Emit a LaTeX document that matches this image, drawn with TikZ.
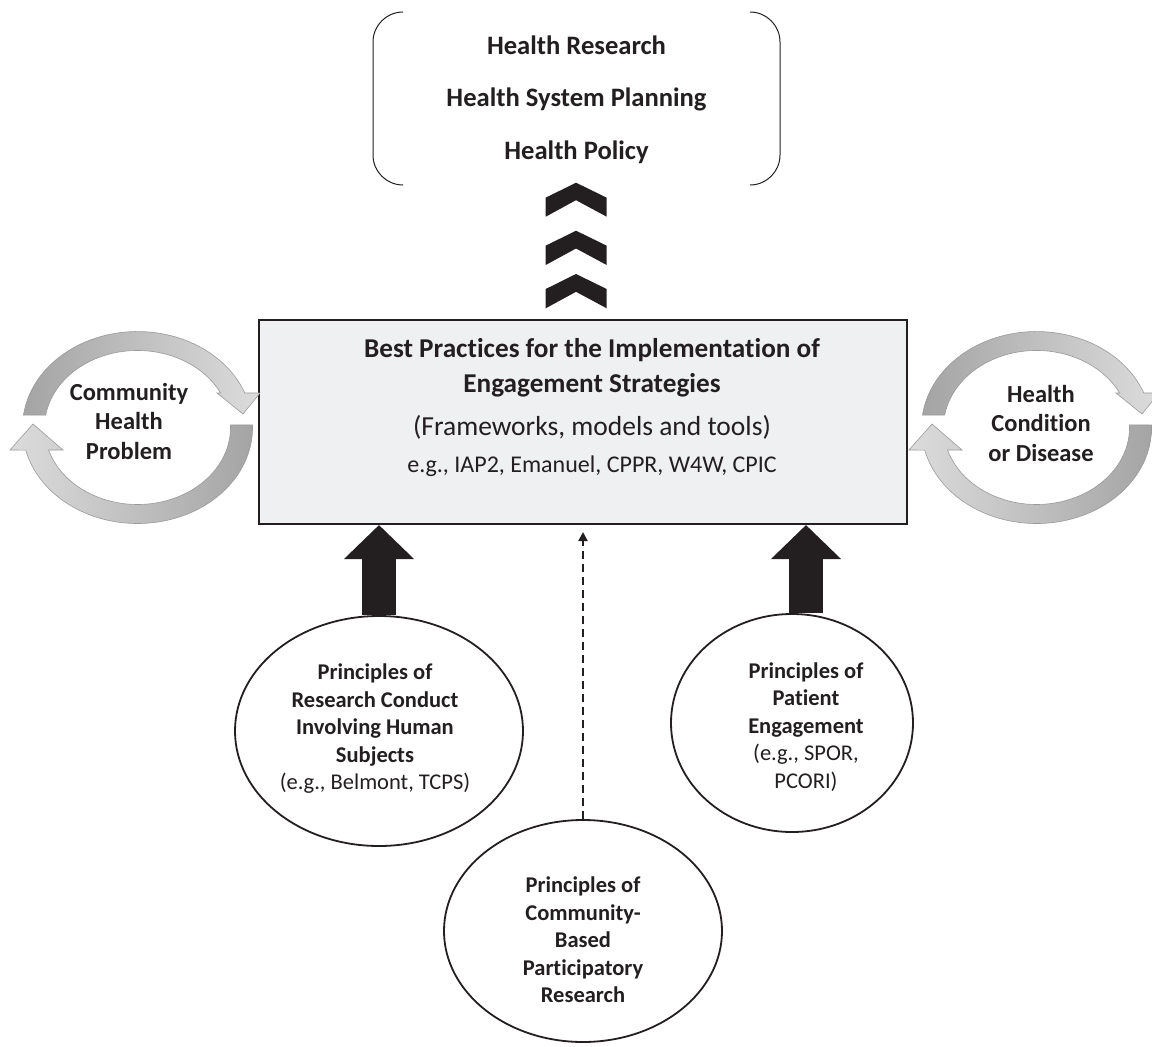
\documentclass[tikz,border=0pt]{standalone}
\usepackage{fontspec}
\setmainfont{Carlito}[Ligatures=CommonOff]
\usetikzlibrary{arrows.meta,shapes.geometric,calc}
\definecolor{ink}{HTML}{231F20}
\definecolor{boxfill}{HTML}{EFF0F2}
\definecolor{cycdark}{HTML}{A4A4A4}
\definecolor{cyclight}{HTML}{DCDCDC}
\definecolor{cycedge}{HTML}{9A9A9A}
\tikzset{
  bigarrow/.style={draw=ink, line width=34pt, -{Triangle[length=34pt,width=68pt]}},
  dasharrow/.style={draw=ink, line width=2pt, dash pattern=on 8pt off 5pt, -{Triangle[length=9pt,width=9pt]}, shorten >=7pt},
  oval/.style={ellipse, draw=ink, line width=1.8pt, fill=white, inner sep=0pt},
  ovaltext/.style={align=center, text=ink, font=\fontsize{22.5}{27.5}\selectfont\bfseries},
  cyctext/.style={align=center, text=ink, font=\fontsize{24.5}{29.5}\selectfont\bfseries},
  cycarrow/.style={draw=cycedge, line width=0.6pt},
  chevron/.style={fill=ink},
  bracket/.style={draw=ink, line width=1pt, rounded corners=30pt}
}
\begin{document}
\begin{tikzpicture}[x=1pt,y=-1pt]
\useasboundingbox (0,0) rectangle (1152,1047);
\fill[white] (0,0) rectangle (1152,1047);
\begin{scope}
\clip (0,0) rectangle (1152,1047);
% top group
\draw[bracket] (403,12) -- (373,12) -- (373,185) -- (403,185);
\draw[bracket] (750,12) -- (780,12) -- (780,185) -- (750,185);
\node[align=center, text=ink, font=\fontsize{26.6}{52.5}\selectfont\bfseries] (outcomes) at (576.5,99.5) {Health Research\\Health System Planning\\Health Policy};
% chevrons
\foreach \t/\b in {182.7/216.7, 230.7/265, 274/308.3}{
  \fill[chevron] (545.7,\t+15) -- (576,\t) -- (606.7,\t+15) -- (606.7,\b) -- (576,\b-16.5) -- (545.7,\b) -- cycle;
}
% main box
\node[draw=ink, line width=2pt, fill=boxfill, minimum width=648pt, minimum height=204pt, inner sep=0pt] (box) at (583,422) {};
\node[align=center, text=ink, font=\fontsize{27.2}{35.5}\selectfont\bfseries] (title) at (592,368) {Best Practices for the Implementation of\\Engagement Strategies};
\node[text=ink, font=\fontsize{27.5}{32}\selectfont] (frame) at (592,427) {(Frameworks, models and tools)};
\node[text=ink, font=\fontsize{24}{28}\selectfont] (eg) at (592,466) {e.g., IAP2, Emanuel, CPPR, W4W, CPIC};
% cycles
\foreach \dx in {0, 899}{
\begin{scope}[shift={(\dx,0)}]
\path[cycarrow, left color=cycdark, right color=cyclight]
  (23.5,415) arc[start angle=187.5, end angle=338.9, x radius=115, y radius=96]
  -- (260,393) -- (243,414) -- (217,393) -- (220.6,393)
  arc[start angle=333.4, end angle=189.3, x radius=93, y radius=77] -- cycle;
\path[cycarrow, left color=cyclight, right color=cycdark]
  (252.5,425) arc[start angle=-1.5, end angle=166.4, x radius=115, y radius=96]
  -- (10,450) -- (33,424) -- (63,450) -- (48.6,450)
  arc[start angle=163, end angle=-1.9, x radius=93, y radius=77] -- cycle;
\end{scope}
}
\end{scope}
\node[cyctext] (cycL) at (129,421) {Community\\Health\\Problem};
\node[cyctext] (cycR) at (1041,423) {Health\\Condition\\or Disease};
% ellipses
\node[oval, minimum width=288pt, minimum height=230pt] (le) at (379,731) {};
\node[ovaltext] (ltext) at (375,729) {Principles of\\Research Conduct\\Involving Human\\Subjects\\{\mdseries (e.g., Belmont, TCPS)}};
\node[oval, minimum width=242pt, minimum height=218pt] (re) at (792,723) {};
\node[ovaltext] (rtext) at (806,727) {Principles of\\Patient\\Engagement\\{\mdseries (e.g., SPOR,}\\{\mdseries PCORI)}};
\node[oval, minimum width=278pt, minimum height=222pt] (be) at (583,931) {};
\node[ovaltext] (btext) at (583,940) {Principles of\\Community-\\Based\\Participatory\\Research};
% connectors
\draw[bigarrow] (le.north) -- (le.north |- box.south);
\draw[bigarrow] (rtext.center |- re.north) -- (rtext.center |- box.south);
\draw[dasharrow] (be.north) -- (be.north |- box.south);
\end{tikzpicture}
\end{document}
